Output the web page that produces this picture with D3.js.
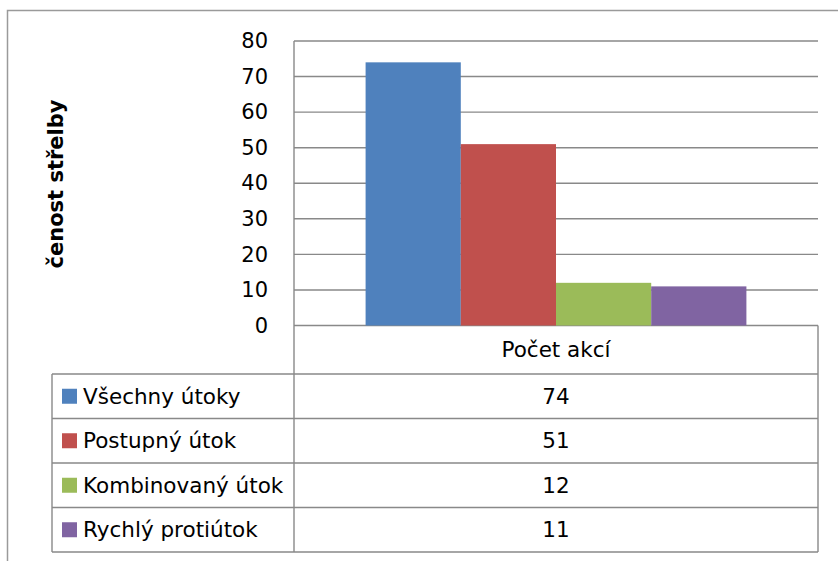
<!DOCTYPE html>
<html>
<head>
<meta charset="utf-8">
<script src="https://cdnjs.cloudflare.com/ajax/libs/d3/7.8.5/d3.min.js"></script>
<style>
  body { margin: 0; background: #fff; }
  text { font-family: "DejaVu Sans", sans-serif; fill: #000; }
</style>
</head>
<body>
<div id="chart"></div>
<script>
var width = 838,
    height = 561;

// data
var categories = ["Počet akcí"];
var seriesNames = ["Všechny útoky", "Postupný útok", "Kombinovaný útok", "Rychlý protiútok"];
var seriesValues = [74, 51, 12, 11];
var seriesColors = ["#4F81BD", "#C0504D", "#9BBB59", "#8064A2"];
var yTicks = [0, 10, 20, 30, 40, 50, 60, 70, 80];
var yTitle = "čenost střelby";

var svg = d3.select("#chart").append("svg")
    .attr("width", width)
    .attr("height", height);

var plotLeft = 294, plotRight = 818, plotTop = 41, plotBottom = 325.5;
var tableLeft = 52, headerBottom = 374, tableBottom = 552;
var gridColor = "#898989";

// outer chart border (cut off on right and bottom)
svg.append("path")
    .attr("d", "M7.5," + height + "V10.5H" + width)
    .attr("fill", "none")
    .attr("stroke", "#9a9a9a")
    .attr("stroke-width", 1.5);

var x0 = d3.scaleBand()
    .domain(categories)
    .range([plotLeft, plotRight])
    .paddingInner(0)
    .paddingOuter(0.188);

var x1 = d3.scaleBand()
    .domain(seriesNames)
    .range([0, x0.bandwidth()]);

var y = d3.scaleLinear()
    .domain([0, 80])
    .range([plotBottom, plotTop]);

// gridlines
svg.append("g")
    .selectAll("line")
    .data(yTicks)
    .enter()
        .append("line")
        .attr("x1", plotLeft)
        .attr("x2", plotRight)
        .attr("y1", function(d) { return y(d); })
        .attr("y2", function(d) { return y(d); })
        .attr("stroke", gridColor)
        .attr("stroke-width", 1.4);

// y axis labels
var yAxis = d3.axisLeft(y).tickValues(yTicks).tickSize(0).tickPadding(0);
var yg = svg.append("g")
    .attr("transform", "translate(" + 268 + ",0)")
    .call(yAxis);
yg.select(".domain").remove();
yg.selectAll("text")
    .attr("font-family", "DejaVu Sans, sans-serif")
    .attr("font-size", 21)
    .attr("fill", "#000");

// y axis title
svg.append("text")
    .attr("transform", "translate(63," + 184 + ") rotate(-90)")
    .attr("text-anchor", "middle")
    .attr("font-size", 21)
    .attr("font-weight", "bold")
    .text(yTitle);

// bars
svg.append("g")
    .selectAll("rect")
    .data(seriesValues)
    .enter()
        .append("rect")
        .attr("x", function(d, i) { return x0(categories[0]) + x1(seriesNames[i]); })
        .attr("width", x1.bandwidth())
        .attr("y", function(d) { return y(d); })
        .attr("height", function(d) { return y(0) - y(d); })
        .attr("fill", function(d, i) { return seriesColors[i]; });

// data table
var rowY = d3.scaleBand()
    .domain(seriesNames)
    .range([headerBottom, tableBottom]);

var table = svg.append("g")
    .attr("stroke", gridColor)
    .attr("stroke-width", 1.4);

// vertical lines
table.append("line")
    .attr("x1", plotLeft).attr("x2", plotLeft)
    .attr("y1", plotTop).attr("y2", tableBottom);
table.append("line")
    .attr("x1", plotRight).attr("x2", plotRight)
    .attr("y1", plotBottom).attr("y2", tableBottom);
table.append("line")
    .attr("x1", tableLeft).attr("x2", tableLeft)
    .attr("y1", headerBottom).attr("y2", tableBottom);

// horizontal row lines
table.selectAll(".row")
    .data(seriesNames)
    .enter()
        .append("line")
        .attr("class", "row")
        .attr("x1", tableLeft)
        .attr("x2", plotRight)
        .attr("y1", function(d) { return rowY(d); })
        .attr("y2", function(d) { return rowY(d); });
table.append("line")
    .attr("x1", tableLeft).attr("x2", plotRight)
    .attr("y1", tableBottom).attr("y2", tableBottom);

// header text
svg.append("text")
    .attr("x", x0(categories[0]) + x0.bandwidth() / 2)
    .attr("y", (plotBottom + headerBottom) / 2)
    .attr("dy", "0.35em")
    .attr("text-anchor", "middle")
    .attr("font-size", 21.5)
    .text(categories[0]);

// legend keys + names
var rows = svg.append("g")
    .selectAll("g")
    .data(seriesNames)
    .enter()
        .append("g")
        .attr("transform", function(d) { return "translate(0," + (rowY(d) + rowY.bandwidth() / 2) + ")"; });

rows.append("rect")
    .attr("x", 62)
    .attr("y", -7.5)
    .attr("width", 15)
    .attr("height", 15)
    .attr("fill", function(d, i) { return seriesColors[i]; });

rows.append("text")
    .attr("x", 83)
    .attr("dy", "0.35em")
    .attr("font-size", 21.5)
    .text(function(d) { return d; });

rows.append("text")
    .attr("x", x0(categories[0]) + x0.bandwidth() / 2)
    .attr("dy", "0.35em")
    .attr("text-anchor", "middle")
    .attr("font-size", 21.5)
    .text(function(d, i) { return seriesValues[i]; });
</script>
</body>
</html>
